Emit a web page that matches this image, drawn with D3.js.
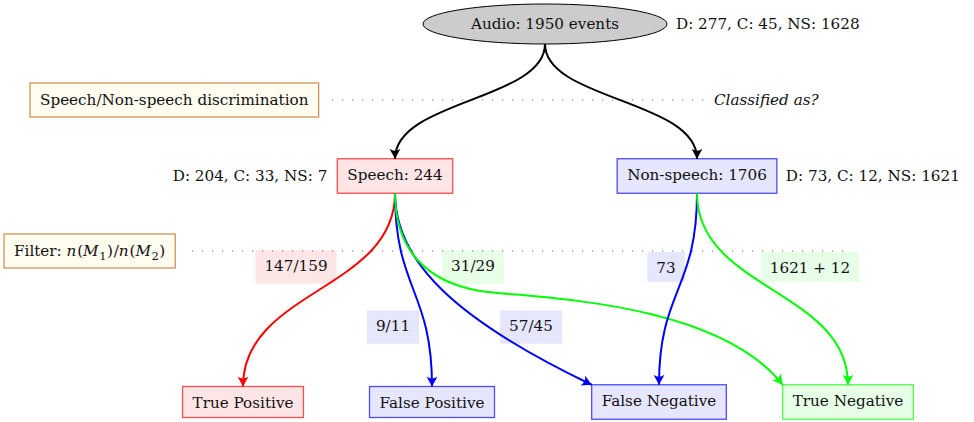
<!DOCTYPE html>
<html>
<head>
<meta charset="utf-8">
<script src="https://cdn.jsdelivr.net/npm/d3@7"></script>
<style>
  body { margin: 0; background: #fff; }
  svg text { font-family: "DejaVu Serif", serif; fill: #111; }
</style>
</head>
<body>
<div id="chart"></div>
<script>
// size of the drawing
const width = 974; const height = 422;

// ---- data ----
const nodeIds = ['audio', 'speech', 'nonspeech', 'tp', 'fp', 'fn', 'tn'];
const nodeLabels = ['Audio: 1950 events', 'Speech: 244', 'Non-speech: 1706',
  'True Positive', 'False Positive', 'False Negative', 'True Negative'];
const nodeKinds = ['root', 'pos', 'neg', 'pos', 'neg', 'neg', 'ok'];
const breakdownNodes = ['audio', 'speech', 'nonspeech'];
const breakdownLabels = ['D: 277, C: 45, NS: 1628', 'D: 204, C: 33, NS: 7', 'D: 73, C: 12, NS: 1621'];
const stageLabels = ['Speech/Non-speech discrimination', 'Filter'];
const stageQuestion = 'Classified as?';

const edgeSources = ['audio', 'audio', 'speech', 'speech', 'speech', 'speech', 'nonspeech', 'nonspeech'];
const edgeTargets = ['speech', 'nonspeech', 'tp', 'fp', 'fn', 'tn', 'fn', 'tn'];
const edgeCounts  = ['', '', '147/159', '9/11', '57/45', '31/29', '73', '1621 + 12'];

// ---- layout (positions / styles) ----
const xPos = d3.scaleOrdinal().domain(nodeIds).range([545, 395, 697, 243, 432, 659, 848]);
const levelOf = {audio: 0, speech: 1, nonspeech: 1, tp: 2, fp: 2, fn: 2, tn: 2};
const yPos = d3.scaleOrdinal().domain([0, 1, 2]).range([24, 176, 402]);
const stageY = [100, 251];

const palette = {
  root: {fill: '#cccccc', stroke: '#000000', edge: '#000000'},
  pos:  {fill: '#ffe6e6', stroke: '#ff4d4d', edge: '#ff0000'},
  neg:  {fill: '#e6e6ff', stroke: '#4d4dff', edge: '#0000ff'},
  ok:   {fill: '#e6ffe6', stroke: '#4dff4d', edge: '#00ff00'}
};
const edgeKind = (t) => t === 'speech' || t === 'nonspeech' ? 'root' : nodeKinds[nodeIds.indexOf(t)];

// edge label centres
const labelPos = {
  '147/159': [296, 267], '9/11': [393, 327], '57/45': [531, 327],
  '31/29': [473, 267], '73': [666, 267], '1621 + 12': [810, 267]
};

const fontSize = 15.2;
const asc = 12, desc = 3.5;
const hasDesc = (s) => /[gjpqy\/(),]/.test(s);

const svg = d3.select('#chart').append('svg')
  .attr('width', width).attr('height', height)
  .style('font-size', fontSize + 'px');

// arrow markers, one per colour
const defs = svg.append('defs');
Object.entries(palette).forEach(([k, p]) => {
  defs.append('marker')
    .attr('id', 'arr-' + k)
    .attr('viewBox', '-11 -6 12 12')
    .attr('markerUnits', 'userSpaceOnUse')
    .attr('markerWidth', 12).attr('markerHeight', 12)
    .attr('refX', 0).attr('refY', 0)
    .attr('orient', 'auto')
    .append('path')
      .attr('d', 'M0,0 L-10,-5.5 Q-6,0 -10,5.5 Z')
      .attr('fill', p.edge);
});

// ---- stage boxes ----
const stageG = svg.append('g');
stageLabels.forEach((lab, i) => {
  const g = stageG.append('g');
  const t = g.append('text').attr('y', stageY[i]).attr('dy', '0.35em');
  if (i === 0) {
    t.attr('x', 40).text(lab);
  } else {
    t.attr('x', 14);
    t.append('tspan').text(lab + ': ');
    // n(M_1)/n(M_2)
    const math = [['n', 1], ['(', 0], ['M', 1], ['1', 2], [')', 3], ['/', 0], ['n', 1], ['(', 0], ['M', 1], ['2', 2], [')', 3]];
    math.forEach(([s, m]) => {
      const sp = t.append('tspan').text(s);
      if (m === 1) sp.style('font-style', 'italic');
      if (m === 2) sp.attr('dy', 4).attr('dx', 0.5).style('font-size', '11.5px');
      if (m === 3) sp.attr('dy', -4).attr('dx', 0.5);
      if (s === '/' || s === '(') sp.attr('dx', 0.8);
    });
  }
  const bb = t.node().getBBox();
  const h = 34;
  g.insert('rect', 'text')
    .attr('x', bb.x - 10).attr('y', stageY[i] - h / 2)
    .attr('width', bb.width + 20).attr('height', h)
    .attr('fill', '#fffcf0').attr('stroke', '#cc8a4a').attr('stroke-width', 1.2);
});

// classification question
svg.append('text')
  .attr('x', 714).attr('y', stageY[0]).attr('dy', '0.35em')
  .style('font-style', 'italic')
  .text(stageQuestion);

// ---- edge label backgrounds (under the lines) ----
const edgeData = edgeSources.map((s, i) => ({source: s, target: edgeTargets[i], count: edgeCounts[i]}));
const labelData = edgeData.filter(d => d.count);
const labBg = svg.append('g');
const labTx = [];
labelData.forEach(d => {
  const [cx, cy] = labelPos[d.count];
  const k = edgeKind(d.target);
  const t = svg.append('text').attr('x', cx).attr('text-anchor', 'middle').text(d.count);
  const bb = t.node().getBBox();
  t.remove();
  const h = 30 + (hasDesc(d.count) ? desc : 0);
  const top = cy - h / 2;
  labBg.append('rect')
    .attr('x', cx - bb.width / 2 - 9).attr('y', top)
    .attr('width', bb.width + 18).attr('height', h)
    .attr('fill', palette[k].fill);
  labTx.push({text: d.count, x: cx, y: top + 9 + asc});
});

// dotted guides
const dotted = [[332, 706, stageY[0]], [192, 850, stageY[1]]];
svg.append('g').selectAll('line').data(dotted).join('line')
  .attr('x1', d => d[0]).attr('x2', d => d[1])
  .attr('y1', d => d[2]).attr('y2', d => d[2])
  .attr('stroke', '#707070').attr('stroke-width', 1.2)
  .attr('stroke-dasharray', '1.2 8.8');

// ---- nodes ----
const nodeG = svg.append('g');
const nodeBox = {};
nodeIds.forEach((id, i) => {
  const cx = xPos(id), cy = yPos(levelOf[id]);
  const kind = nodeKinds[i];
  const g = nodeG.append('g');
  const t = g.append('text').attr('x', cx).attr('text-anchor', 'middle').text(nodeLabels[i]);
  const bb = t.node().getBBox();
  if (kind === 'root') {
    t.attr('y', cy).attr('dy', '0.35em');
    g.insert('ellipse', 'text')
      .attr('cx', cx).attr('cy', cy).attr('rx', 122).attr('ry', 20)
      .attr('fill', palette.root.fill).attr('stroke', '#000').attr('stroke-width', 1);
    nodeBox[id] = {cx, top: cy - 20, bottom: cy + 20, left: cx - 122, right: cx + 122};
  } else {
    const h = 31 + (hasDesc(nodeLabels[i]) ? desc : 0);
    const w = bb.width + 20;
    const top = cy - h / 2;
    t.attr('y', top + 9.5 + asc);
    g.insert('rect', 'text')
      .attr('x', cx - w / 2).attr('y', top).attr('width', w).attr('height', h)
      .attr('fill', palette[kind].fill).attr('stroke', palette[kind].stroke).attr('stroke-width', 1.3);
    nodeBox[id] = {cx, top, bottom: top + h, left: cx - w / 2, right: cx + w / 2};
  }
});

// breakdown annotations beside the upper nodes
breakdownNodes.forEach((id, i) => {
  const b = nodeBox[id];
  const left = id === 'speech';
  svg.append('text')
    .attr('x', left ? b.left - 10 : b.right + 9)
    .attr('y', yPos(levelOf[id])).attr('dy', '0.35em')
    .attr('text-anchor', left ? 'end' : 'start')
    .text(breakdownLabels[i]);
});

// ---- edges ----
function edgePath(d) {
  const s = nodeBox[d.source], t = nodeBox[d.target];
  const x0 = s.cx, y0 = s.bottom;
  const p = d3.path();
  p.moveTo(x0, y0);
  if (d.source === 'audio') {
    p.bezierCurveTo(x0, 100, t.cx, 100, t.cx, t.top);
  } else if (d.source === 'speech' && d.target === 'fn') {
    p.bezierCurveTo(x0, 262, t.left - 135, 320, t.left, t.top);
  } else if (d.source === 'speech' && d.target === 'tn') {
    p.bezierCurveTo(x0, 250, x0 + 32, 282, x0 + 85, 291);
    p.bezierCurveTo(x0 + 129, 298, t.left - 68, 298, t.left, t.top);
  } else {
    p.bezierCurveTo(x0, 290, t.cx, 290, t.cx, t.top);
  }
  return p.toString();
}

svg.append('g').selectAll('path').data(edgeData).join('path')
  .attr('d', edgePath)
  .attr('fill', 'none')
  .attr('stroke', d => palette[edgeKind(d.target)].edge)
  .attr('stroke-width', 2)
  .attr('marker-end', d => `url(#arr-${edgeKind(d.target)})`);

// edge label text on top of the lines
svg.append('g').selectAll('text').data(labTx).join('text')
  .attr('x', d => d.x).attr('y', d => d.y)
  .attr('text-anchor', 'middle')
  .text(d => d.text);
</script>
</body>
</html>
